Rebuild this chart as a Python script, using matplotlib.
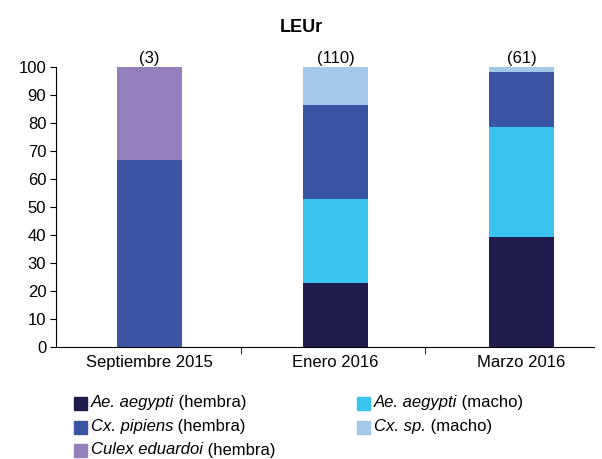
import matplotlib
matplotlib.use("Agg")
import matplotlib.pyplot as plt
from matplotlib.patches import Rectangle
import numpy as np

plt.rcParams['font.family'] = ['Liberation Sans', 'DejaVu Sans']

# Data (percentages per sampling date)
categories = ["Septiembre 2015", "Enero 2016", "Marzo 2016"]
counts = [3, 110, 61]
ae_hembra = [0.0, 22.7, 39.3]
ae_macho = [0.0, 30.0, 39.3]
cx_pipiens = [66.7, 33.6, 19.7]
cx_sp = [0.0, 13.6, 1.6]
cul_eduardoi = [33.3, 0.0, 0.0]

# (values, colour, italic part, plain part)
series = [
    (ae_hembra, "#201d4d", "Ae. aegypti", " (hembra)"),
    (ae_macho, "#3bc3f0", "Ae. aegypti", " (macho)"),
    (cx_pipiens, "#3a55a4", "Cx. pipiens", " (hembra)"),
    (cx_sp, "#a2c8ea", "Cx. sp.", " (macho)"),
    (cul_eduardoi, "#9580bb", "Culex eduardoi", " (hembra)"),
]

W, H = 602, 459
fig = plt.figure(figsize=(W / 100, H / 100), dpi=100)
ax = fig.add_axes([0.093, 0.244, 0.894, 0.61])

x = np.arange(len(categories))
bottom = np.zeros(len(categories))
for vals, col, it, rm in series:
    ax.bar(x, vals, width=0.35, bottom=bottom, color=col)
    bottom += np.array(vals)

for xi, n in zip(x, counts):
    ax.text(xi, 100.5, "(%d)" % n, ha="center", va="bottom", fontsize=12)

ax.set_ylim(0, 100)
ax.set_xlim(-0.503, 2.39)
ax.set_yticks(np.arange(0, 101, 10))
ax.set_xticks(x)
ax.set_xticklabels(categories)
ax.set_xticks([0.49, 1.48], minor=True)
ax.tick_params(axis="x", which="major", length=0, labelsize=12, pad=6)
ax.tick_params(axis="x", which="minor", length=5, direction="out")
ax.tick_params(axis="y", length=4, direction="out", labelsize=12, pad=3)
for s in ["top", "right"]:
    ax.spines[s].set_visible(False)

fig.text(0.5, 1 - 28 / H, "LEUr", ha="center", va="center", fontsize=13,
         fontweight="bold")

# legend built by hand so that the species names can be italic
slots = {0: (74, 403), 2: (74, 427), 4: (74, 450),
         1: (357, 403), 3: (357, 427)}
fig.canvas.draw()
renderer = fig.canvas.get_renderer()
for i, (vals, col, it, rm) in enumerate(series):
    px, py = slots[i]
    fig.add_artist(Rectangle((px / W, 1 - (py + 6.5) / H), 13 / W, 13 / H,
                             color=col, transform=fig.transFigure))
    t = fig.text((px + 17) / W, 1 - py / H, it, style="italic",
                 ha="left", va="center", fontsize=12)
    bb = t.get_window_extent(renderer)
    fig.text(bb.x1 / W, 1 - py / H, rm, ha="left", va="center", fontsize=12)

fig.savefig("out.png", dpi=100)
